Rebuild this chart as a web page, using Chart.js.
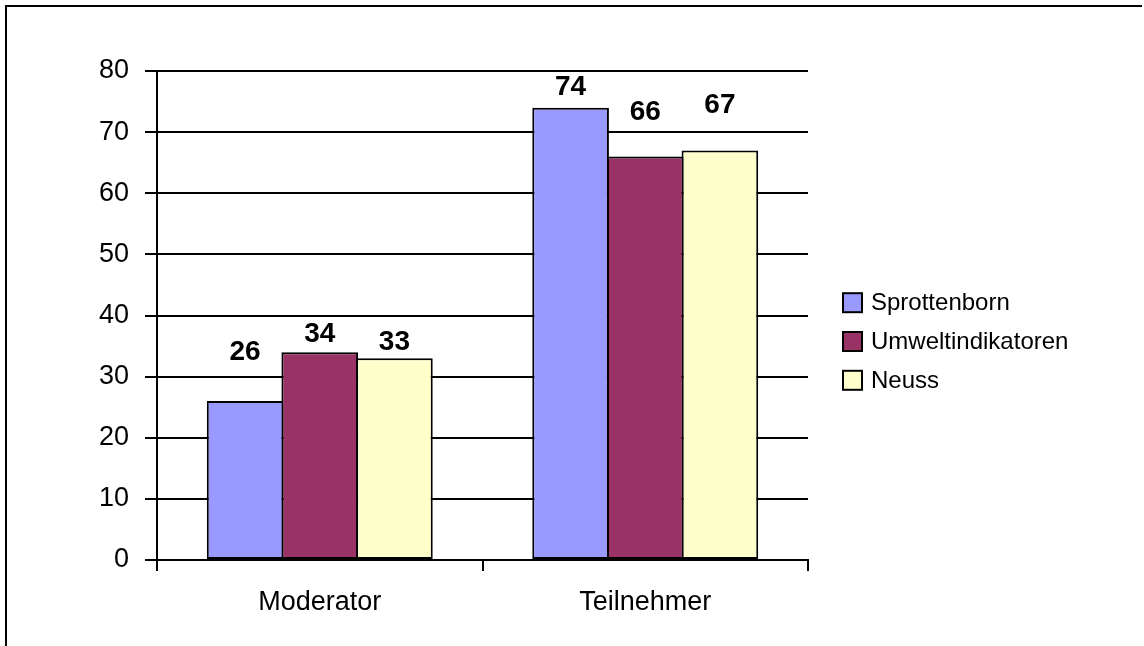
<!DOCTYPE html>
<html>
<head>
<meta charset="utf-8">
<script src="https://cdn.jsdelivr.net/npm/chart.js@4/dist/chart.umd.min.js"></script>
<style>
  html, body { margin: 0; padding: 0; background: #fff; }
  #wrap { width: 1144px; height: 646px; position: relative; }
</style>
</head>
<body>
<div id="wrap"><canvas id="c" width="1144" height="646"></canvas></div>
<script>
// ---- data ----
const categories = ["Moderator", "Teilnehmer"];
const seriesNames = ["Sprottenborn", "Umweltindikatoren", "Neuss"];
const sprottenborn = [26, 74];
const umweltindikatoren = [34, 66];
const neuss = [33, 67];
const yTicks = [0, 10, 20, 30, 40, 50, 60, 70, 80];

// ---- style ----
const colors = ["#9999FF", "#993366", "#FFFFCC"];
// label lift above bar top (px), per series per category
const labelLift = [[49, 20], [18, 44], [16, 45]];
const FONT = "'Liberation Sans', Arial, sans-serif";

const seriesValues = [sprottenborn, umweltindikatoren, neuss];

const framePlugin = {
  id: 'frame',
  beforeDraw(chart) {
    const ctx = chart.ctx;
    ctx.save();
    ctx.fillStyle = '#fff';
    ctx.fillRect(0, 0, chart.width, chart.height);
    ctx.strokeStyle = '#000';
    ctx.lineWidth = 2;
    ctx.beginPath();
    ctx.moveTo(6, chart.height);
    ctx.lineTo(6, 6);
    ctx.lineTo(1142, 6);
    ctx.stroke();
    ctx.restore();
  }
};

const labelPlugin = {
  id: 'barLabels',
  afterDatasetsDraw(chart) {
    const ctx = chart.ctx;
    ctx.save();
    ctx.font = "bold 28px " + FONT;
    ctx.fillStyle = '#000';
    ctx.textAlign = 'center';
    ctx.textBaseline = 'middle';
    chart.data.datasets.forEach((ds, di) => {
      const meta = chart.getDatasetMeta(di);
      meta.data.forEach((bar, i) => {
        ctx.fillText(String(ds.data[i]), bar.x, bar.y - labelLift[di][i]);
      });
    });
    ctx.restore();
  }
};

const legendPlugin = {
  id: 'customLegend',
  afterDraw(chart) {
    const ctx = chart.ctx;
    const x0 = 843, centers = [302.7, 341.5, 380.3], box = 19;
    ctx.save();
    ctx.font = "24px " + FONT;
    ctx.textAlign = 'left';
    ctx.textBaseline = 'middle';
    chart.data.datasets.forEach((ds, i) => {
      const cy = centers[i];
      ctx.fillStyle = ds.backgroundColor;
      ctx.fillRect(x0, cy - box / 2, box, box);
      ctx.strokeStyle = '#000';
      ctx.lineWidth = 2;
      ctx.strokeRect(x0, cy - box / 2, box, box);
      ctx.fillStyle = '#000';
      ctx.fillText(ds.label, 871, cy + 1);
    });
    ctx.restore();
  }
};

new Chart(document.getElementById('c'), {
  type: 'bar',
  data: {
    labels: categories,
    datasets: seriesNames.map((name, i) => ({
      label: name,
      data: seriesValues[i],
      backgroundColor: colors[i],
      borderColor: '#000',
      borderWidth: 2,
      borderSkipped: false,
      categoryPercentage: 0.688,
      barPercentage: 1.027
    }))
  },
  options: {
    responsive: false,
    animation: false,
    devicePixelRatio: 1,
    layout: { padding: { top: 71, right: 336, bottom: 0, left: 0 } },
    plugins: {
      legend: { display: false },
      tooltip: { enabled: false }
    },
    scales: {
      x: {
        grid: {
          display: true,
          drawOnChartArea: false,
          drawTicks: true,
          tickLength: 11,
          color: '#000',
          lineWidth: 2
        },
        border: { display: true, color: '#000', width: 2 },
        ticks: {
          color: '#000',
          font: { family: FONT, size: 27 },
          padding: 15,
          maxRotation: 0
        },
        afterFit(scale) { scale.height = 86; }
      },
      y: {
        min: 0,
        max: 80,
        afterBuildTicks(scale) { scale.ticks = yTicks.map(v => ({ value: v })); },
        grid: {
          color: '#000',
          lineWidth: 2,
          drawTicks: true,
          tickLength: 12
        },
        border: { display: true, color: '#000', width: 2 },
        ticks: {
          color: '#000',
          font: { family: FONT, size: 27 },
          padding: 16
        },
        afterFit(scale) { scale.width = 157; }
      }
    }
  },
  plugins: [framePlugin, labelPlugin, legendPlugin]
});
</script>
</body>
</html>
